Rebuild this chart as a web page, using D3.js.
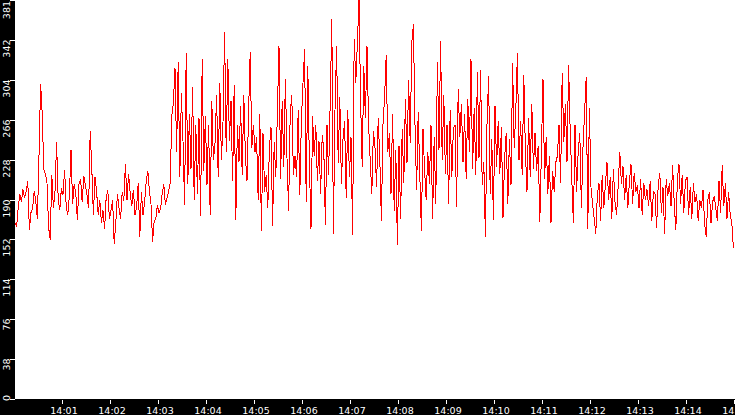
<!DOCTYPE html>
<html><head><meta charset="utf-8">
<script src="https://cdn.jsdelivr.net/npm/d3@7"></script>
<style>html,body{margin:0;padding:0;background:#000;overflow:hidden}</style>
</head><body>
<svg id="chart" width="735" height="415"></svg>
<script>
// ---- data ----
const startTime = new Date(2024, 0, 1, 14, 0, 0);
const endTime = new Date(2024, 0, 1, 14, 15, 0);
const sampleSeconds = 2;
const seriesValues = [
168,165,182,196,188,200,192,198,208,161,178,182,199,188,172,232,301,273,219,215,206,164,152,214,182,
198,245,190,181,201,195,219,184,176,195,238,186,205,196,171,205,210,188,213,204,195,182,256,220,176,
212,198,176,190,168,180,162,193,199,172,180,190,148,168,196,182,172,198,189,224,190,215,196,184,200,
176,183,206,155,198,176,188,207,218,199,186,150,170,172,185,178,182,196,205,185,192,198,206,270,283,
316,236,322,212,292,246,185,330,205,272,220,298,190,262,196,268,175,325,218,270,204,262,176,285,228,
244,290,212,302,228,264,350,236,325,246,285,208,300,171,262,226,280,214,290,232,208,275,331,240,262,
236,250,190,272,160,254,198,214,182,240,260,165,245,212,275,337,210,285,222,306,230,180,272,290,214,
232,212,276,195,266,302,334,188,318,225,162,270,232,262,208,246,196,252,238,166,262,214,282,363,158,
276,337,225,288,205,248,265,192,276,212,250,157,344,302,340,381,285,222,318,268,337,262,228,196,256,
240,202,268,230,170,262,288,328,236,254,196,272,180,238,147,242,172,258,206,286,225,305,244,340,358,
262,200,274,214,160,258,218,190,236,205,262,172,250,186,322,238,342,228,290,215,262,186,276,212,258,
262,183,296,250,282,226,272,210,286,236,325,220,278,214,312,230,314,204,226,155,262,308,196,248,171,
280,222,265,215,260,173,230,254,186,248,204,321,240,275,330,228,265,214,309,236,198,268,212,282,220,
254,218,242,169,236,306,210,250,196,232,168,218,198,226,232,262,206,311,245,282,226,319,256,210,168,
262,198,236,254,182,240,274,307,162,278,202,186,172,158,196,206,170,214,182,205,226,190,212,172,220,
188,176,204,236,205,222,190,214,182,208,224,186,216,198,204,182,210,176,206,190,200,184,208,170,198,
196,163,204,216,178,202,158,210,194,206,184,223,188,161,210,224,186,214,178,208,212,176,202,172,206,
188,196,170,190,182,200,168,155,190,198,168,188,194,182,170,208,178,223,184,206,172,198,176,168,144
];
const xTickLabels = ["14:01","14:02","14:03","14:04","14:05","14:06","14:07","14:08","14:09","14:10","14:11","14:12","14:13","14:14","14:15"];
const yMax = 381;
const yTickLabels = ["0","38","76","114","152","190","228","266","304","342","381"];

// ---- drawing ----
const W = 735, H = 415;
const plot = {left: 15, top: 0, right: 735, bottom: 399};
const svg = d3.select("#chart");

const x = d3.scaleTime().domain([startTime, endTime]).range([plot.left, plot.right]);
const y = d3.scaleLinear().domain([0, yMax]).range([plot.bottom, plot.top]);

svg.append("rect").attr("x", 0).attr("y", 0).attr("width", W).attr("height", H).attr("fill", "#000");
svg.append("rect").attr("x", plot.left).attr("y", plot.top)
  .attr("width", plot.right - plot.left).attr("height", plot.bottom - plot.top).attr("fill", "#fff");

const data = seriesValues.map((v, i) => ({t: new Date(+startTime + i * sampleSeconds * 1000), v}));

svg.append("path").datum(data)
  .attr("fill", "none").attr("stroke", "#ff0000").attr("stroke-width", 1)
  .attr("shape-rendering", "crispEdges")
  .attr("d", d3.line().x(d => x(d.t)).y(d => y(d.v)));

// x axis
const parseHM = d3.timeParse("%H:%M");
const xTicks = xTickLabels.map(l => {
  const p = parseHM(l);
  return {label: l, t: new Date(2024, 0, 1, p.getHours(), p.getMinutes(), 0)};
});
const xg = svg.append("g");
xTicks.forEach(d => {
  const px = Math.round(x(d.t)) - 0.5;
  xg.append("line").attr("x1", px).attr("x2", px).attr("y1", plot.bottom + 1).attr("y2", plot.bottom + 5)
    .attr("stroke", "#fff").attr("stroke-width", 1);
  xg.append("text").attr("x", px + 1.5).attr("y", 414).attr("text-anchor", "middle")
    .attr("fill", "#fff").attr("font-family", "DejaVu Sans").attr("font-size", "9.5px").text(d.label);
});

// y axis
const yg = svg.append("g");
yTickLabels.forEach((l, i) => {
  const v = i * yMax / 10;
  const py = Math.round(y(v)) + 0.5;
  yg.append("line").attr("x1", plot.left - 5).attr("x2", plot.left).attr("y1", py).attr("y2", py)
    .attr("stroke", "#fff").attr("stroke-width", 1);
  const txt = yg.append("text").attr("text-anchor", "end")
    .attr("fill", "#fff").attr("font-family", "DejaVu Sans").attr("font-size", "9.5px").text(l);
  const w = txt.node().getComputedTextLength();
  let endY = Math.max(1, Math.min(py - 1, 401 - w));
  txt.attr("transform", `translate(9.5,${endY}) rotate(-90)`);
});
</script>
</body></html>
